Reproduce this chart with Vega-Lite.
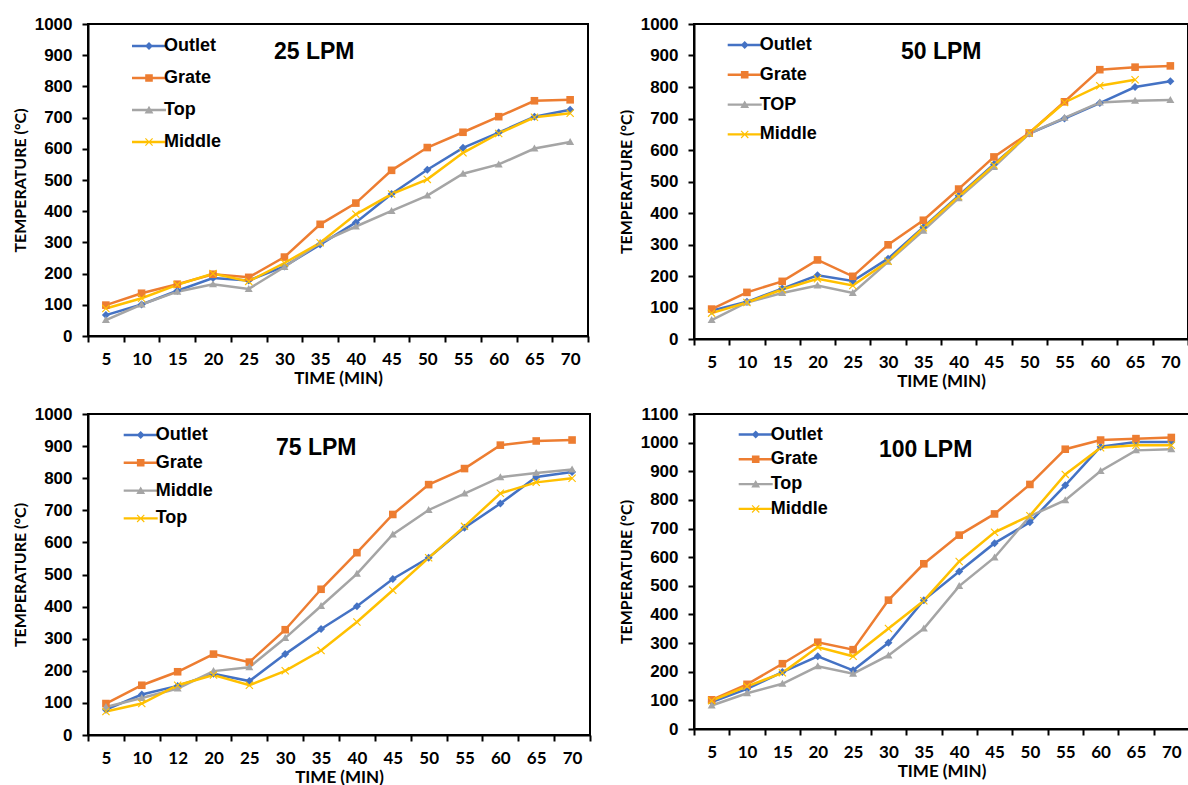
{
  "$schema": "https://vega.github.io/schema/vega-lite/v6.json",
  "background": "white",
  "padding": {"left": 11, "top": 14, "right": 0, "bottom": 0},
  "config": {
    "view": {"stroke": "black", "strokeWidth": 2},
    "axis": {"grid": false, "domainColor": "black", "domainWidth": 2, "tickColor": "black", "tickWidth": 2, "tickSize": 6, "labelColor": "black", "titleColor": "black"},
    "axisX": {"labelFont": "Lato", "labelFontSize": 17, "labelFontWeight": "bold", "labelAngle": 0, "labelPadding": 9, "tickBand": "extent", "titleFont": "Lato", "titleFontSize": 17, "titleFontWeight": "bold", "titlePadding": 3},
    "axisY": {"labelFont": "Liberation Sans", "labelFontSize": 17, "labelFontWeight": "bold", "labelPadding": 10, "format": "d", "titleFont": "Lato", "titleFontSize": 16, "titleFontWeight": "bold", "titlePadding": 6},
    "legend": {"labelFont": "Liberation Sans", "labelFontSize": 18, "labelFontWeight": "bold", "labelColor": "black", "padding": 0, "symbolStrokeWidth": 0, "symbolSize": 400, "labelOffset": 5, "title": null},
    "title": {"font": "Liberation Sans", "fontSize": 23, "fontWeight": "bold", "color": "black", "anchor": "start", "frame": "group", "baseline": "middle", "offset": 0}
  },
  "data": {"values": [
    {"p":"25","s":"Outlet","t":"5","v":67},{"p":"25","s":"Outlet","t":"10","v":101},{"p":"25","s":"Outlet","t":"15","v":145},{"p":"25","s":"Outlet","t":"20","v":186},{"p":"25","s":"Outlet","t":"25","v":178},{"p":"25","s":"Outlet","t":"30","v":223},{"p":"25","s":"Outlet","t":"35","v":293},{"p":"25","s":"Outlet","t":"40","v":364},{"p":"25","s":"Outlet","t":"45","v":455},{"p":"25","s":"Outlet","t":"50","v":533},{"p":"25","s":"Outlet","t":"55","v":603},{"p":"25","s":"Outlet","t":"60","v":652},{"p":"25","s":"Outlet","t":"65","v":703},{"p":"25","s":"Outlet","t":"70","v":725},
    {"p":"25","s":"Grate","t":"5","v":99},{"p":"25","s":"Grate","t":"10","v":137},{"p":"25","s":"Grate","t":"15","v":166},{"p":"25","s":"Grate","t":"20","v":198},{"p":"25","s":"Grate","t":"25","v":188},{"p":"25","s":"Grate","t":"30","v":253},{"p":"25","s":"Grate","t":"35","v":358},{"p":"25","s":"Grate","t":"40","v":426},{"p":"25","s":"Grate","t":"45","v":531},{"p":"25","s":"Grate","t":"50","v":604},{"p":"25","s":"Grate","t":"55","v":653},{"p":"25","s":"Grate","t":"60","v":703},{"p":"25","s":"Grate","t":"65","v":754},{"p":"25","s":"Grate","t":"70","v":757},
    {"p":"25","s":"Top","t":"5","v":51},{"p":"25","s":"Top","t":"10","v":101},{"p":"25","s":"Top","t":"15","v":142},{"p":"25","s":"Top","t":"20","v":166},{"p":"25","s":"Top","t":"25","v":151},{"p":"25","s":"Top","t":"30","v":221},{"p":"25","s":"Top","t":"35","v":299},{"p":"25","s":"Top","t":"40","v":351},{"p":"25","s":"Top","t":"45","v":401},{"p":"25","s":"Top","t":"50","v":450},{"p":"25","s":"Top","t":"55","v":520},{"p":"25","s":"Top","t":"60","v":550},{"p":"25","s":"Top","t":"65","v":601},{"p":"25","s":"Top","t":"70","v":622},
    {"p":"25","s":"Middle","t":"5","v":88},{"p":"25","s":"Middle","t":"10","v":121},{"p":"25","s":"Middle","t":"15","v":164},{"p":"25","s":"Middle","t":"20","v":200},{"p":"25","s":"Middle","t":"25","v":175},{"p":"25","s":"Middle","t":"30","v":234},{"p":"25","s":"Middle","t":"35","v":299},{"p":"25","s":"Middle","t":"40","v":390},{"p":"25","s":"Middle","t":"45","v":455},{"p":"25","s":"Middle","t":"50","v":502},{"p":"25","s":"Middle","t":"55","v":587},{"p":"25","s":"Middle","t":"60","v":649},{"p":"25","s":"Middle","t":"65","v":701},{"p":"25","s":"Middle","t":"70","v":714},
    {"p":"50","s":"Outlet","t":"5","v":90},{"p":"50","s":"Outlet","t":"10","v":118},{"p":"50","s":"Outlet","t":"15","v":160},{"p":"50","s":"Outlet","t":"20","v":202},{"p":"50","s":"Outlet","t":"25","v":184},{"p":"50","s":"Outlet","t":"30","v":255},{"p":"50","s":"Outlet","t":"35","v":355},{"p":"50","s":"Outlet","t":"40","v":455},{"p":"50","s":"Outlet","t":"45","v":555},{"p":"50","s":"Outlet","t":"50","v":652},{"p":"50","s":"Outlet","t":"55","v":700},{"p":"50","s":"Outlet","t":"60","v":749},{"p":"50","s":"Outlet","t":"65","v":800},{"p":"50","s":"Outlet","t":"70","v":818},
    {"p":"50","s":"Grate","t":"5","v":95},{"p":"50","s":"Grate","t":"10","v":148},{"p":"50","s":"Grate","t":"15","v":183},{"p":"50","s":"Grate","t":"20","v":251},{"p":"50","s":"Grate","t":"25","v":199},{"p":"50","s":"Grate","t":"30","v":299},{"p":"50","s":"Grate","t":"35","v":377},{"p":"50","s":"Grate","t":"40","v":476},{"p":"50","s":"Grate","t":"45","v":578},{"p":"50","s":"Grate","t":"50","v":654},{"p":"50","s":"Grate","t":"55","v":753},{"p":"50","s":"Grate","t":"60","v":855},{"p":"50","s":"Grate","t":"65","v":863},{"p":"50","s":"Grate","t":"70","v":867},
    {"p":"50","s":"TOP","t":"5","v":60},{"p":"50","s":"TOP","t":"10","v":116},{"p":"50","s":"TOP","t":"15","v":146},{"p":"50","s":"TOP","t":"20","v":170},{"p":"50","s":"TOP","t":"25","v":146},{"p":"50","s":"TOP","t":"30","v":245},{"p":"50","s":"TOP","t":"35","v":344},{"p":"50","s":"TOP","t":"40","v":447},{"p":"50","s":"TOP","t":"45","v":546},{"p":"50","s":"TOP","t":"50","v":652},{"p":"50","s":"TOP","t":"55","v":702},{"p":"50","s":"TOP","t":"60","v":751},{"p":"50","s":"TOP","t":"65","v":756},{"p":"50","s":"TOP","t":"70","v":759},
    {"p":"50","s":"Middle","t":"5","v":82},{"p":"50","s":"Middle","t":"10","v":116},{"p":"50","s":"Middle","t":"15","v":157},{"p":"50","s":"Middle","t":"20","v":191},{"p":"50","s":"Middle","t":"25","v":170},{"p":"50","s":"Middle","t":"30","v":247},{"p":"50","s":"Middle","t":"35","v":353},{"p":"50","s":"Middle","t":"40","v":452},{"p":"50","s":"Middle","t":"45","v":552},{"p":"50","s":"Middle","t":"50","v":654},{"p":"50","s":"Middle","t":"55","v":751},{"p":"50","s":"Middle","t":"60","v":804},{"p":"50","s":"Middle","t":"65","v":823},
    {"p":"75","s":"Outlet","t":"5","v":79},{"p":"75","s":"Outlet","t":"10","v":126},{"p":"75","s":"Outlet","t":"12","v":153},{"p":"75","s":"Outlet","t":"20","v":191},{"p":"75","s":"Outlet","t":"25","v":168},{"p":"75","s":"Outlet","t":"30","v":252},{"p":"75","s":"Outlet","t":"35","v":330},{"p":"75","s":"Outlet","t":"40","v":401},{"p":"75","s":"Outlet","t":"45","v":486},{"p":"75","s":"Outlet","t":"50","v":552},{"p":"75","s":"Outlet","t":"55","v":646},{"p":"75","s":"Outlet","t":"60","v":721},{"p":"75","s":"Outlet","t":"65","v":804},{"p":"75","s":"Outlet","t":"70","v":819},
    {"p":"75","s":"Grate","t":"5","v":98},{"p":"75","s":"Grate","t":"10","v":155},{"p":"75","s":"Grate","t":"12","v":197},{"p":"75","s":"Grate","t":"20","v":252},{"p":"75","s":"Grate","t":"25","v":227},{"p":"75","s":"Grate","t":"30","v":328},{"p":"75","s":"Grate","t":"35","v":454},{"p":"75","s":"Grate","t":"40","v":568},{"p":"75","s":"Grate","t":"45","v":687},{"p":"75","s":"Grate","t":"50","v":780},{"p":"75","s":"Grate","t":"55","v":830},{"p":"75","s":"Grate","t":"60","v":903},{"p":"75","s":"Grate","t":"65","v":916},{"p":"75","s":"Grate","t":"70","v":919},
    {"p":"75","s":"Middle","t":"5","v":87},{"p":"75","s":"Middle","t":"10","v":115},{"p":"75","s":"Middle","t":"12","v":145},{"p":"75","s":"Middle","t":"20","v":199},{"p":"75","s":"Middle","t":"25","v":211},{"p":"75","s":"Middle","t":"30","v":302},{"p":"75","s":"Middle","t":"35","v":402},{"p":"75","s":"Middle","t":"40","v":502},{"p":"75","s":"Middle","t":"45","v":625},{"p":"75","s":"Middle","t":"50","v":701},{"p":"75","s":"Middle","t":"55","v":752},{"p":"75","s":"Middle","t":"60","v":803},{"p":"75","s":"Middle","t":"65","v":816},{"p":"75","s":"Middle","t":"70","v":827},
    {"p":"75","s":"Top","t":"5","v":73},{"p":"75","s":"Top","t":"10","v":98},{"p":"75","s":"Top","t":"12","v":155},{"p":"75","s":"Top","t":"20","v":187},{"p":"75","s":"Top","t":"25","v":155},{"p":"75","s":"Top","t":"30","v":200},{"p":"75","s":"Top","t":"35","v":263},{"p":"75","s":"Top","t":"40","v":352},{"p":"75","s":"Top","t":"45","v":451},{"p":"75","s":"Top","t":"50","v":552},{"p":"75","s":"Top","t":"55","v":650},{"p":"75","s":"Top","t":"60","v":753},{"p":"75","s":"Top","t":"65","v":787},{"p":"75","s":"Top","t":"70","v":800},
    {"p":"100","s":"Outlet","t":"5","v":94},{"p":"100","s":"Outlet","t":"10","v":140},{"p":"100","s":"Outlet","t":"15","v":199},{"p":"100","s":"Outlet","t":"20","v":254},{"p":"100","s":"Outlet","t":"25","v":205},{"p":"100","s":"Outlet","t":"30","v":301},{"p":"100","s":"Outlet","t":"35","v":450},{"p":"100","s":"Outlet","t":"40","v":550},{"p":"100","s":"Outlet","t":"45","v":649},{"p":"100","s":"Outlet","t":"50","v":722},{"p":"100","s":"Outlet","t":"55","v":851},{"p":"100","s":"Outlet","t":"60","v":986},{"p":"100","s":"Outlet","t":"65","v":1002},{"p":"100","s":"Outlet","t":"70","v":1002},
    {"p":"100","s":"Grate","t":"5","v":102},{"p":"100","s":"Grate","t":"10","v":156},{"p":"100","s":"Grate","t":"15","v":228},{"p":"100","s":"Grate","t":"20","v":303},{"p":"100","s":"Grate","t":"25","v":277},{"p":"100","s":"Grate","t":"30","v":450},{"p":"100","s":"Grate","t":"35","v":577},{"p":"100","s":"Grate","t":"40","v":677},{"p":"100","s":"Grate","t":"45","v":751},{"p":"100","s":"Grate","t":"50","v":854},{"p":"100","s":"Grate","t":"55","v":977},{"p":"100","s":"Grate","t":"60","v":1009},{"p":"100","s":"Grate","t":"65","v":1014},{"p":"100","s":"Grate","t":"70","v":1018},
    {"p":"100","s":"Top","t":"5","v":82},{"p":"100","s":"Top","t":"10","v":125},{"p":"100","s":"Top","t":"15","v":158},{"p":"100","s":"Top","t":"20","v":219},{"p":"100","s":"Top","t":"25","v":193},{"p":"100","s":"Top","t":"30","v":257},{"p":"100","s":"Top","t":"35","v":351},{"p":"100","s":"Top","t":"40","v":499},{"p":"100","s":"Top","t":"45","v":599},{"p":"100","s":"Top","t":"50","v":743},{"p":"100","s":"Top","t":"55","v":799},{"p":"100","s":"Top","t":"60","v":901},{"p":"100","s":"Top","t":"65","v":973},{"p":"100","s":"Top","t":"70","v":977},
    {"p":"100","s":"Middle","t":"5","v":99},{"p":"100","s":"Middle","t":"10","v":149},{"p":"100","s":"Middle","t":"15","v":196},{"p":"100","s":"Middle","t":"20","v":286},{"p":"100","s":"Middle","t":"25","v":254},{"p":"100","s":"Middle","t":"30","v":351},{"p":"100","s":"Middle","t":"35","v":448},{"p":"100","s":"Middle","t":"40","v":585},{"p":"100","s":"Middle","t":"45","v":687},{"p":"100","s":"Middle","t":"50","v":745},{"p":"100","s":"Middle","t":"55","v":889},{"p":"100","s":"Middle","t":"60","v":982},{"p":"100","s":"Middle","t":"65","v":991},{"p":"100","s":"Middle","t":"70","v":991}
  ]},
  "columns": 2,
  "spacing": {"row": 14, "column": 25},
  "resolve": {"scale": {"color": "independent", "shape": "independent"}},
  "concat": [
    {
      "width": 500, "height": 312,
      "title": {"text": "25 LPM", "dx": 186, "dy": 53},
      "transform": [{"filter": "datum.p === '25'"}],
      "encoding": {
        "x": {"field": "t", "type": "nominal", "sort": ["5","10","15","20","25","30","35","40","45","50","55","60","65","70"], "bandPosition": 0.5, "scale": {"type": "band", "paddingInner": 0, "paddingOuter": 0}, "axis": {"title": "TIME (MIN)"}},
        "y": {"field": "v", "type": "quantitative", "scale": {"domain": [0, 1000], "nice": false}, "axis": {"title": "TEMPERATURE (°C)", "values": [0,100,200,300,400,500,600,700,800,900,1000]}}
      },
      "resolve": {"scale": {"color": "independent", "shape": "independent"}},
      "layer": [
        {"mark": {"type": "line", "strokeWidth": 2.5},
         "encoding": {"color": {"field": "s", "type": "nominal", "scale": {"domain": ["Outlet","Grate","Top","Middle"], "range": ["#4472C4","#ED7D31","#A5A5A5","#FFC000"]}, "legend": null}}},
        {"mark": {"type": "point", "filled": true, "opacity": 1, "size": 64, "strokeWidth": 0},
         "encoding": {"color": {"field": "s", "type": "nominal", "scale": {"domain": ["Outlet","Grate","Top","Middle"], "range": ["#4472C4","#ED7D31","#A5A5A5","#FFC000"]}, "legend": null},
           "shape": {"field": "s", "type": "nominal", "scale": {"domain": ["Outlet","Grate","Top","Middle"], "range": ["M0,-1L1,0L0,1L-1,0Z", "M-0.95,-0.95H0.95V0.95H-0.95Z", "M0,-1L1,0.75H-1Z", "M-1,-0.8L-0.8,-1L1,0.8L0.8,1Z M-1,0.8L0.8,-1L1,-0.8L-0.8,1Z"]}, "legend": null}}},
        {"transform": [{"filter": "false"}],
         "mark": {"type": "point", "filled": true, "opacity": 1},
         "encoding": {"color": {"field": "s", "type": "nominal", "scale": {"domain": ["Outlet","Grate","Top","Middle"], "range": ["#4472C4","#ED7D31","#A5A5A5","#FFC000"]}, "legend": {"orient": "none", "legendX": 51, "legendY": 12, "rowPadding": 13}},
           "shape": {"field": "s", "type": "nominal", "scale": {"domain": ["Outlet","Grate","Top","Middle"], "range": ["M-1.7,-0.12H1.7V0.12H-1.7Z M0,-0.4L0.4,0L0,0.4L-0.4,0Z", "M-1.7,-0.12H1.7V0.12H-1.7Z M-0.38,-0.38H0.38V0.38H-0.38Z", "M-1.7,-0.12H1.7V0.12H-1.7Z M0,-0.42L0.44,0.34H-0.44Z", "M-1.7,-0.12H1.7V0.12H-1.7Z M-0.4,-0.32L-0.32,-0.4L0.4,0.32L0.32,0.4Z M-0.4,0.32L0.32,-0.4L0.4,-0.32L-0.32,0.4Z"]}, "legend": {"orient": "none", "legendX": 51, "legendY": 12, "rowPadding": 13}}}}
      ]
    },
    {
      "width": 494, "height": 315,
      "title": {"text": "50 LPM", "dx": 207, "dy": 53},
      "transform": [{"filter": "datum.p === '50'"}],
      "encoding": {
        "x": {"field": "t", "type": "nominal", "sort": ["5","10","15","20","25","30","35","40","45","50","55","60","65","70"], "bandPosition": 0.5, "scale": {"type": "band", "paddingInner": 0, "paddingOuter": 0}, "axis": {"title": "TIME (MIN)"}},
        "y": {"field": "v", "type": "quantitative", "scale": {"domain": [0, 1000], "nice": false}, "axis": {"title": "TEMPERATURE (°C)", "values": [0,100,200,300,400,500,600,700,800,900,1000]}}
      },
      "resolve": {"scale": {"color": "independent", "shape": "independent"}},
      "layer": [
        {"mark": {"type": "line", "strokeWidth": 2.5},
         "encoding": {"color": {"field": "s", "type": "nominal", "scale": {"domain": ["Outlet","Grate","TOP","Middle"], "range": ["#4472C4","#ED7D31","#A5A5A5","#FFC000"]}, "legend": null}}},
        {"mark": {"type": "point", "filled": true, "opacity": 1, "size": 64, "strokeWidth": 0},
         "encoding": {"color": {"field": "s", "type": "nominal", "scale": {"domain": ["Outlet","Grate","TOP","Middle"], "range": ["#4472C4","#ED7D31","#A5A5A5","#FFC000"]}, "legend": null},
           "shape": {"field": "s", "type": "nominal", "scale": {"domain": ["Outlet","Grate","TOP","Middle"], "range": ["M0,-1L1,0L0,1L-1,0Z", "M-0.95,-0.95H0.95V0.95H-0.95Z", "M0,-1L1,0.75H-1Z", "M-1,-0.8L-0.8,-1L1,0.8L0.8,1Z M-1,0.8L0.8,-1L1,-0.8L-0.8,1Z"]}, "legend": null}}},
        {"transform": [{"filter": "false"}],
         "mark": {"type": "point", "filled": true, "opacity": 1},
         "encoding": {"color": {"field": "s", "type": "nominal", "scale": {"domain": ["Outlet","Grate","TOP","Middle"], "range": ["#4472C4","#ED7D31","#A5A5A5","#FFC000"]}, "legend": {"orient": "none", "legendX": 40.7, "legendY": 11, "rowPadding": 10.8}},
           "shape": {"field": "s", "type": "nominal", "scale": {"domain": ["Outlet","Grate","TOP","Middle"], "range": ["M-1.7,-0.12H1.7V0.12H-1.7Z M0,-0.4L0.4,0L0,0.4L-0.4,0Z", "M-1.7,-0.12H1.7V0.12H-1.7Z M-0.38,-0.38H0.38V0.38H-0.38Z", "M-1.7,-0.12H1.7V0.12H-1.7Z M0,-0.42L0.44,0.34H-0.44Z", "M-1.7,-0.12H1.7V0.12H-1.7Z M-0.4,-0.32L-0.32,-0.4L0.4,0.32L0.32,0.4Z M-0.4,0.32L0.32,-0.4L0.4,-0.32L-0.32,0.4Z"]}, "legend": {"orient": "none", "legendX": 40.7, "legendY": 11, "rowPadding": 10.8}}}}
      ]
    },
    {
      "width": 502, "height": 321,
      "title": {"text": "75 LPM", "dx": 188, "dy": 59},
      "transform": [{"filter": "datum.p === '75'"}],
      "encoding": {
        "x": {"field": "t", "type": "nominal", "sort": ["5","10","12","20","25","30","35","40","45","50","55","60","65","70"], "bandPosition": 0.5, "scale": {"type": "band", "paddingInner": 0, "paddingOuter": 0}, "axis": {"title": "TIME (MIN)"}},
        "y": {"field": "v", "type": "quantitative", "scale": {"domain": [0, 1000], "nice": false}, "axis": {"title": "TEMPERATURE (°C)", "values": [0,100,200,300,400,500,600,700,800,900,1000]}}
      },
      "resolve": {"scale": {"color": "independent", "shape": "independent"}},
      "layer": [
        {"mark": {"type": "line", "strokeWidth": 2.5},
         "encoding": {"color": {"field": "s", "type": "nominal", "scale": {"domain": ["Outlet","Grate","Middle","Top"], "range": ["#4472C4","#ED7D31","#A5A5A5","#FFC000"]}, "legend": null}}},
        {"mark": {"type": "point", "filled": true, "opacity": 1, "size": 64, "strokeWidth": 0},
         "encoding": {"color": {"field": "s", "type": "nominal", "scale": {"domain": ["Outlet","Grate","Middle","Top"], "range": ["#4472C4","#ED7D31","#A5A5A5","#FFC000"]}, "legend": null},
           "shape": {"field": "s", "type": "nominal", "scale": {"domain": ["Outlet","Grate","Middle","Top"], "range": ["M0,-1L1,0L0,1L-1,0Z", "M-0.95,-0.95H0.95V0.95H-0.95Z", "M0,-1L1,0.75H-1Z", "M-1,-0.8L-0.8,-1L1,0.8L0.8,1Z M-1,0.8L0.8,-1L1,-0.8L-0.8,1Z"]}, "legend": null}}},
        {"transform": [{"filter": "false"}],
         "mark": {"type": "point", "filled": true, "opacity": 1},
         "encoding": {"color": {"field": "s", "type": "nominal", "scale": {"domain": ["Outlet","Grate","Middle","Top"], "range": ["#4472C4","#ED7D31","#A5A5A5","#FFC000"]}, "legend": {"orient": "none", "legendX": 42.7, "legendY": 11, "rowPadding": 8.8}},
           "shape": {"field": "s", "type": "nominal", "scale": {"domain": ["Outlet","Grate","Middle","Top"], "range": ["M-1.7,-0.12H1.7V0.12H-1.7Z M0,-0.4L0.4,0L0,0.4L-0.4,0Z", "M-1.7,-0.12H1.7V0.12H-1.7Z M-0.38,-0.38H0.38V0.38H-0.38Z", "M-1.7,-0.12H1.7V0.12H-1.7Z M0,-0.42L0.44,0.34H-0.44Z", "M-1.7,-0.12H1.7V0.12H-1.7Z M-0.4,-0.32L-0.32,-0.4L0.4,0.32L0.32,0.4Z M-0.4,0.32L0.32,-0.4L0.4,-0.32L-0.32,0.4Z"]}, "legend": {"orient": "none", "legendX": 42.7, "legendY": 11, "rowPadding": 8.8}}}}
      ]
    },
    {
      "width": 495, "height": 315,
      "title": {"text": "100 LPM", "dx": 185, "dy": 61},
      "transform": [{"filter": "datum.p === '100'"}],
      "encoding": {
        "x": {"field": "t", "type": "nominal", "sort": ["5","10","15","20","25","30","35","40","45","50","55","60","65","70"], "bandPosition": 0.5, "scale": {"type": "band", "paddingInner": 0, "paddingOuter": 0}, "axis": {"title": "TIME (MIN)"}},
        "y": {"field": "v", "type": "quantitative", "scale": {"domain": [0, 1100], "nice": false}, "axis": {"title": "TEMPERATURE (°C)", "values": [0,100,200,300,400,500,600,700,800,900,1000,1100]}}
      },
      "resolve": {"scale": {"color": "independent", "shape": "independent"}},
      "layer": [
        {"mark": {"type": "line", "strokeWidth": 2.5},
         "encoding": {"color": {"field": "s", "type": "nominal", "scale": {"domain": ["Outlet","Grate","Top","Middle"], "range": ["#4472C4","#ED7D31","#A5A5A5","#FFC000"]}, "legend": null}}},
        {"mark": {"type": "point", "filled": true, "opacity": 1, "size": 64, "strokeWidth": 0},
         "encoding": {"color": {"field": "s", "type": "nominal", "scale": {"domain": ["Outlet","Grate","Top","Middle"], "range": ["#4472C4","#ED7D31","#A5A5A5","#FFC000"]}, "legend": null},
           "shape": {"field": "s", "type": "nominal", "scale": {"domain": ["Outlet","Grate","Top","Middle"], "range": ["M0,-1L1,0L0,1L-1,0Z", "M-0.95,-0.95H0.95V0.95H-0.95Z", "M0,-1L1,0.75H-1Z", "M-1,-0.8L-0.8,-1L1,0.8L0.8,1Z M-1,0.8L0.8,-1L1,-0.8L-0.8,1Z"]}, "legend": null}}},
        {"transform": [{"filter": "false"}],
         "mark": {"type": "point", "filled": true, "opacity": 1},
         "encoding": {"color": {"field": "s", "type": "nominal", "scale": {"domain": ["Outlet","Grate","Top","Middle"], "range": ["#4472C4","#ED7D31","#A5A5A5","#FFC000"]}, "legend": {"orient": "none", "legendX": 51.7, "legendY": 10.5, "rowPadding": 5.8}},
           "shape": {"field": "s", "type": "nominal", "scale": {"domain": ["Outlet","Grate","Top","Middle"], "range": ["M-1.7,-0.12H1.7V0.12H-1.7Z M0,-0.4L0.4,0L0,0.4L-0.4,0Z", "M-1.7,-0.12H1.7V0.12H-1.7Z M-0.38,-0.38H0.38V0.38H-0.38Z", "M-1.7,-0.12H1.7V0.12H-1.7Z M0,-0.42L0.44,0.34H-0.44Z", "M-1.7,-0.12H1.7V0.12H-1.7Z M-0.4,-0.32L-0.32,-0.4L0.4,0.32L0.32,0.4Z M-0.4,0.32L0.32,-0.4L0.4,-0.32L-0.32,0.4Z"]}, "legend": {"orient": "none", "legendX": 51.7, "legendY": 10.5, "rowPadding": 5.8}}}}
      ]
    }
  ]
}
